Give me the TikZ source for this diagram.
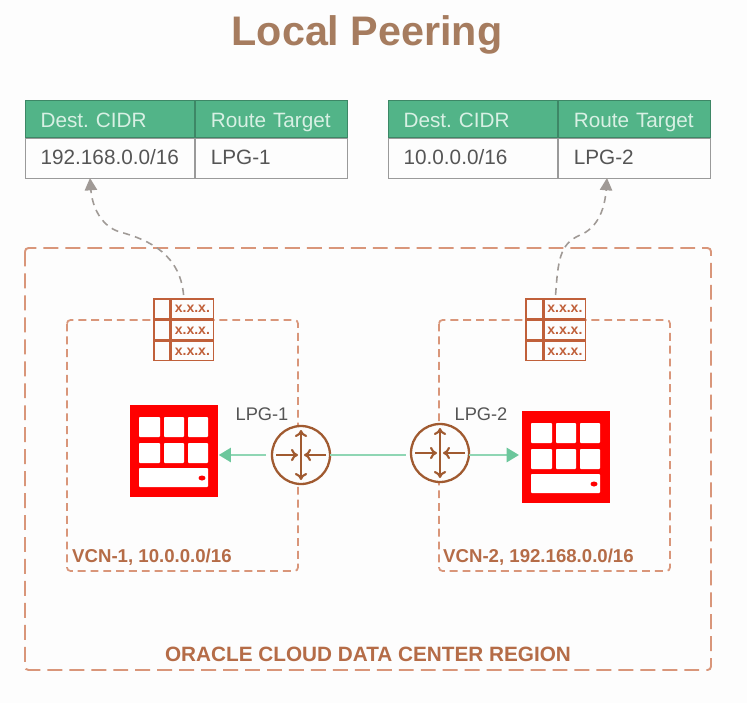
\documentclass[tikz,border=0pt]{standalone}
\usepackage{fontspec}
\setmainfont{Liberation Sans}
\usetikzlibrary{matrix, positioning, calc, arrows.meta}

\definecolor{titlebrown}{HTML}{A67C5F}
\definecolor{dashorange}{HTML}{D9967A}
\definecolor{iconbrown}{HTML}{C0603A}
\definecolor{routerbrown}{HTML}{A05A30}
\definecolor{labelbrown}{HTML}{B56C47}
\definecolor{headgreen}{HTML}{52B488}
\definecolor{headtext}{HTML}{D8F0E4}
\definecolor{linkgreen}{HTML}{8FD6B4}
\definecolor{tipgreen}{HTML}{6CC79C}
\definecolor{textgrey}{HTML}{555555}
\definecolor{bordergrey}{HTML}{9A9A9A}
\definecolor{curvegrey}{HTML}{A09A96}
\definecolor{bgwhite}{HTML}{FDFDFD}
\definecolor{oraclered}{HTML}{FF0000}

\begin{document}
\begin{tikzpicture}[
  x=0.02cm, y=-0.02cm,
  cell/.style={draw=bordergrey, line width=0.7pt, inner ysep=0pt, inner xsep=0.3cm, outer sep=0pt,
    minimum height=0.8cm, text height=0.72em, text depth=0.05em, align=left,
    font=\fontsize{11.8}{14}\selectfont, text=textgrey},
  headrow/.style={nodes={fill=headgreen, text=headtext, minimum height=0.74cm, text height=1em, draw=headgreen!75!black}},
  tablematrix/.style={matrix of nodes, anchor=north west, inner sep=0pt, outer sep=0pt, column sep=0pt, row sep=0pt},
  region/.style={draw=dashorange, line width=1.1pt, dash pattern=on 8.5pt off 4pt, rounded corners=2pt},
  vcn/.style={draw=dashorange, line width=1pt, dash pattern=on 4.5pt off 2.8pt, rounded corners=2pt},
  routecurve/.style={draw=curvegrey, line width=0.9pt, dash pattern=on 4pt off 3pt, -{Triangle[length=7pt,width=7pt]}},
  rtcell/.style={draw=iconbrown, line width=0.9pt, fill=bgwhite, inner sep=0pt, outer sep=0pt, minimum height=0.39cm,
    text height=0.5em, text depth=0pt, font=\bfseries\fontsize{8}{8}\selectfont, text=iconbrown},
  instance/.style={fill=oraclered, inner sep=0pt, minimum width=1.76cm, minimum height=1.84cm},
  router/.style={circle, draw=routerbrown, line width=1.3pt, fill=bgwhite, inner sep=0pt, outer sep=0pt, minimum size=1.16cm},
  link/.style={draw=linkgreen, line width=1.5pt},
  linktip/.style={link, -{Triangle[length=7pt,width=8pt,color=tipgreen]}},
  lpglabel/.style={font=\fontsize{10.4}{12}\selectfont, text=textgrey},
  netlabel/.style={font=\bfseries\fontsize{10.6}{12}\selectfont, text=labelbrown, anchor=west},
  grid/.pic={
    \foreach \cx/\cw in {9/21, 34/20, 58/20}
      \foreach \cy in {12, 38}
        \fill[white, rounded corners=0.5pt] (\cx,\cy) rectangle ++(\cw,20);
    \fill[white, rounded corners=0.5pt] (9,63) rectangle (78,82);
    \fill[oraclered] (72,73) ellipse (3.5 and 2.5);
  },
  arrowset/.pic={
    \draw[routerbrown, line width=1.2pt, {To[length=4pt,width=7pt]}-{To[length=4pt,width=7pt]}] (0,-25) -- (0,25);
    \draw[routerbrown, line width=1.2pt, -{To[length=4pt,width=7pt]}] (-25,0) -- (-3,0);
    \draw[routerbrown, line width=1.2pt, -{To[length=4pt,width=7pt]}] (25,0) -- (3,0);
  },
]

\useasboundingbox (0,0) rectangle (747,703);
\fill[bgwhite] (0,0) rectangle (747,703);

% Title
\node[font=\bfseries\fontsize{23.5}{28}\selectfont, text=titlebrown] (title) at (367,35) {Local Peering};

% Route tables
\matrix (tbl1) [tablematrix,
  nodes={cell},
  row 1/.style={headrow},
  column 1/.style={nodes={text width=2.78cm}},
  column 2/.style={nodes={text width=2.44cm}},
] at (25,100) {
  Dest.\ CIDR & Route Target \\
  192.168.0.0/16 & LPG-1 \\
};

\matrix (tbl2) [tablematrix,
  nodes={cell},
  row 1/.style={headrow},
  column 1/.style={nodes={text width=2.78cm}},
  column 2/.style={nodes={text width=2.44cm}},
] at (388,100) {
  Dest.\ CIDR & Route Target \\
  10.0.0.0/16 & LPG-2 \\
};

% Dashed boxes
\draw[region] (25,248) rectangle (711,670);
\draw[vcn] (67,320) rectangle (298,571);
\draw[vcn] (439,320) rectangle (670,571);

% Route table icons
\matrix (rtb1) [tablematrix, nodes in empty cells,
  nodes={rtcell},
  column 1/.style={nodes={minimum width=0.32cm}},
  column 2/.style={nodes={minimum width=0.84cm}},
] at (153,298) {
  & x.x.x. \\
  & x.x.x. \\
  & x.x.x. \\
};

\matrix (rtb2) [tablematrix, nodes in empty cells,
  nodes={rtcell},
  column 1/.style={nodes={minimum width=0.34cm}},
  column 2/.style={nodes={minimum width=0.82cm}},
] at (525,298) {
  & x.x.x. \\
  & x.x.x. \\
  & x.x.x. \\
};

% Curves up to the tables
\coordinate (tip1) at (90,178);
\coordinate (tip2) at (607,178);
\draw[routecurve] (rtb1.north) ++(0,-3) .. controls (180,255) and (150,240) .. (120,232) .. controls (100,226) and (92,205) .. (tip1);
\draw[routecurve] (rtb2.north) ++(0,-3) .. controls (558,260) and (560,245) .. (578,236) .. controls (600,228) and (605,205) .. (tip2);

% Instances
\node[instance, anchor=north west] (inst1) at (130,405) {};
\pic at (inst1.north west) {grid};
\node[instance, anchor=north west] (inst2) at (522,411) {};
\pic at (inst2.north west) {grid};

% Local peering gateways
\node[router] (lpg1) at (301,455) {};
\pic at (lpg1) {arrowset};
\node[router] (lpg2) at (440,453) {};
\pic at (lpg2) {arrowset};

\draw[linktip, shorten <=3.4pt] (lpg1.west) -- (lpg1.west -| inst1.east);
\draw[link] (lpg1.east) -- ([xshift=-0.1cm]lpg1.east -| lpg2.west);
\draw[linktip] (lpg2.east |- lpg1.east) -- ([xshift=-0.06cm]inst2.west |- lpg1.east);

% Labels
\node[lpglabel] (lab1) at (262,414) {LPG-1};
\node[lpglabel] (lab2) at (481,414) {LPG-2};
\node[netlabel] (net1) at (66,557) {VCN-1, 10.0.0.0/16};
\node[netlabel] (net2) at (437,557) {VCN-2, 192.168.0.0/16};
\node[font=\bfseries\fontsize{11.8}{14}\selectfont, text=labelbrown] (regionname) at (368,654) {ORACLE CLOUD DATA CENTER REGION};

\end{tikzpicture}
\end{document}
